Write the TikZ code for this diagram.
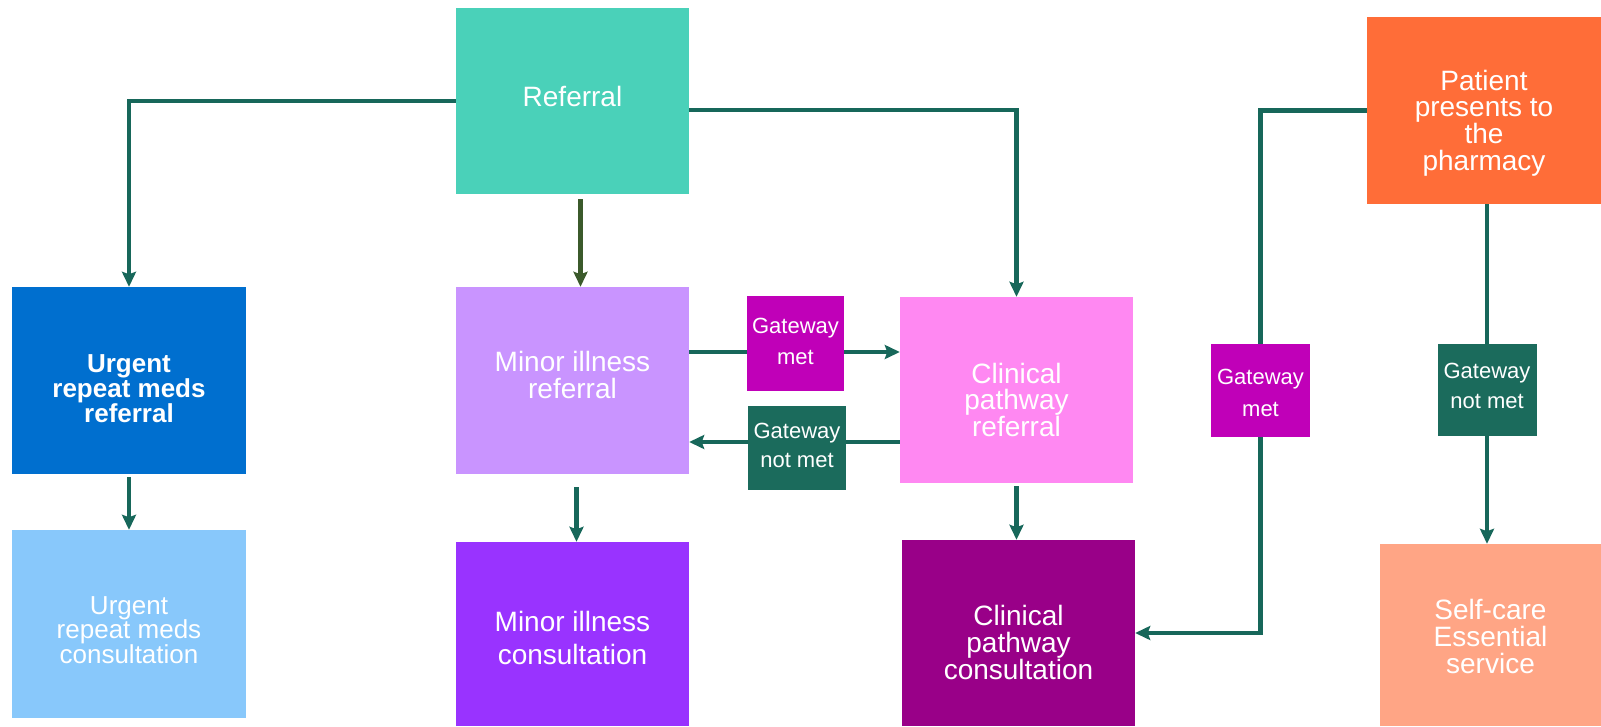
\documentclass[tikz,border=0pt]{standalone}
\usepackage{fontspec}
\setmainfont{Liberation Sans}
\usetikzlibrary{arrows.meta}
\definecolor{cRef}{HTML}{4AD1B9}
\definecolor{cUrgRef}{HTML}{006FCF}
\definecolor{cUrgCon}{HTML}{88C8FB}
\definecolor{cMinRef}{HTML}{C994FF}
\definecolor{cMinCon}{HTML}{9933FF}
\definecolor{cGwMet}{HTML}{C000B8}
\definecolor{cGwNot}{HTML}{1B6B5C}
\definecolor{cClinRef}{HTML}{FF88F2}
\definecolor{cClinCon}{HTML}{990088}
\definecolor{cPat}{HTML}{FF6D38}
\definecolor{cSelf}{HTML}{FFA585}
\definecolor{cLine}{HTML}{17675A}
\definecolor{cLineOlive}{HTML}{3B5A2B}
\begin{document}
\begin{tikzpicture}[x=1pt,y=-1pt,
  box/.style={inner sep=0pt},
  bigbox/.style={box, minimum width=233pt, minimum height=186pt},
  lab/.style={text=white, align=center, inner sep=0pt, font=\fontsize{28}{27}\selectfont},
  gwlab/.style={lab, font=\fontsize{22}{31}\selectfont},
  conn/.style={draw=cLine, line width=4.2pt},
  arr/.style={conn, -{Stealth[length=15pt,width=14pt,inset=2.5pt]}}]
\useasboundingbox (0,0) rectangle (1601,726);
\fill[white] (0,0) rectangle (1601,726);

\node[bigbox, fill=cRef, label={[lab, yshift=5pt]center:Referral}] (ref) at (572.5,101) {};
\node[bigbox, fill=cUrgRef, minimum width=234pt, minimum height=187pt,
  label={[lab, yshift=-8pt, font=\bfseries\fontsize{26}{25}\selectfont]center:Urgent\\repeat meds\\referral}] (urgref) at (129,380.5) {};
\node[bigbox, fill=cUrgCon, minimum width=234pt, minimum height=188pt,
  label={[lab, yshift=-6pt, font=\fontsize{26}{24.5}\selectfont]center:Urgent\\repeat meds\\consultation}] (urgcon) at (129,624) {};
\node[bigbox, fill=cMinRef, minimum height=187pt,
  label={[lab, yshift=5.5pt]center:Minor illness\\referral}] (minref) at (572.5,380.5) {};
\node[bigbox, fill=cMinCon, minimum height=184pt,
  label={[lab, yshift=-4pt, font=\fontsize{28}{33}\selectfont]center:Minor illness\\consultation}] (mincon) at (572.5,634) {};
\node[box, fill=cGwMet, minimum width=97pt, minimum height=95pt,
  label={[gwlab, yshift=2.5pt]center:Gateway\\met}] (gw1) at (795.5,343.5) {};
\node[box, fill=cGwNot, minimum width=98pt, minimum height=84pt,
  label={[gwlab, yshift=2.5pt, font=\fontsize{22}{29}\selectfont]center:Gateway\\not met}] (gw2) at (797,448) {};
\node[bigbox, fill=cClinRef,
  label={[lab, yshift=-9.5pt, font=\fontsize{28}{26.5}\selectfont]center:Clinical\\pathway\\referral}] (clinref) at (1016.5,390) {};
\node[bigbox, fill=cClinCon,
  label={[lab, yshift=-9.5pt]center:Clinical\\pathway\\consultation}] (clincon) at (1018.5,633) {};
\node[box, fill=cGwMet, minimum width=99pt, minimum height=93pt,
  label={[gwlab, yshift=-2pt, font=\fontsize{22}{32}\selectfont]center:Gateway\\met}] (gw3) at (1260.5,390.5) {};
\node[bigbox, fill=cPat, minimum width=234pt, minimum height=187pt,
  label={[lab, yshift=-12.5pt, font=\fontsize{28}{26.7}\selectfont]center:Patient\\presents to\\the\\pharmacy}] (pat) at (1484,110.5) {};
\node[box, fill=cGwNot, minimum width=99pt, minimum height=92pt,
  label={[gwlab, yshift=4pt, font=\fontsize{22}{30}\selectfont]center:Gateway\\not met}] (gw4) at (1487,390) {};
\node[bigbox, fill=cSelf, minimum width=221pt, minimum height=182pt,
  label={[lab, yshift=-1.5pt]center:Self-care\\Essential\\service}] (self) at (1490.5,635) {};

\coordinate (y1) at (0,352);
\coordinate (y2) at (0,442);

% from Referral
\draw[arr] (ref.west) -| (urgref.north);
\draw[arr] ([yshift=-9pt]ref.east) -| (clinref.north);
\draw[arr, draw=cLineOlive, shorten <=5pt] ([xshift=8pt]ref.south) -- ([xshift=8pt]minref.north);
% vertical flows
\draw[arr, shorten <=3pt] (urgref.south) -- (urgcon.north);
\draw[arr, shorten <=13pt] ([xshift=4pt]minref.south) -- ([xshift=4pt]mincon.north);
\draw[arr, shorten <=3pt] (clinref.south) -- (clinref.south |- clincon.north);
% gateways between minor and clinical
\draw[conn] (minref.east |- y1) -- (gw1.west |- y1);
\draw[arr] (gw1.east |- y1) -- (clinref.west |- y1);
\draw[conn] (clinref.west |- y2) -- (gw2.east |- y2);
\draw[arr] (gw2.west |- y2) -- (minref.east |- y2);
% patient flows
\draw[conn] (pat.west) -| (gw3.north);
\draw[arr] (gw3.south) |- (clincon.east);
\draw[conn] (pat.south -| gw4.north) -- (gw4.north);
\draw[arr] (gw4.south) -- (gw4.south |- self.north);
\end{tikzpicture}
\end{document}
